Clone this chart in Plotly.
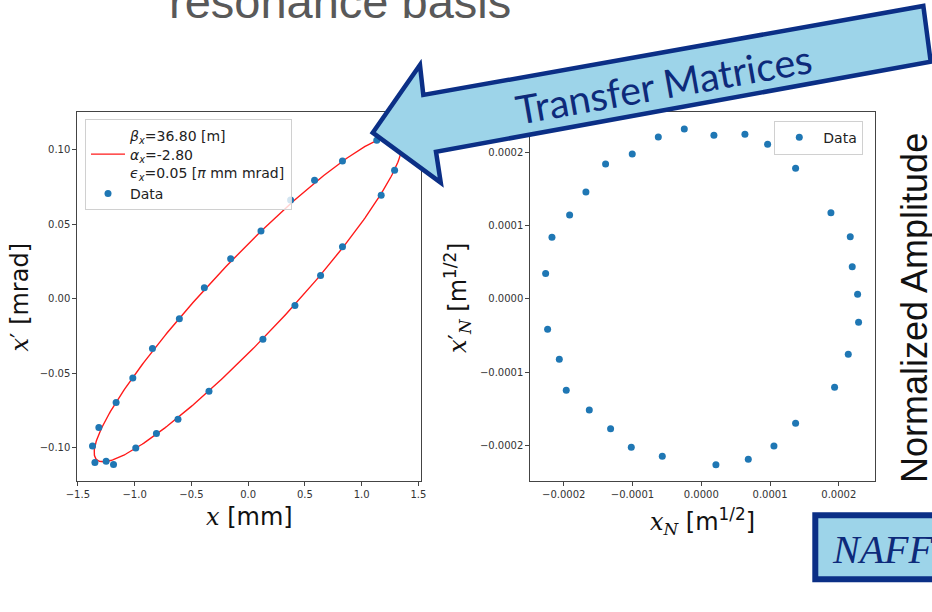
import numpy as np
import plotly.graph_objects as go

W, H = 932, 612


def px(x):
    return x / W


def py(y):
    return 1 - y / H


# ---- fit parameters (legend of left panel) ----
beta_x = 36.80   # [m]
alpha_x = -2.80
eps_x = 0.05     # [pi mm mrad]

# ---- left panel: physical phase space data ----
x_mm = [1.133, 0.831, 0.585, 0.374, 0.113, -0.154, -0.386, -0.606, -0.843, -1.016,
        -1.163, -1.315, -1.371, -1.350, -1.251, -1.186, -0.990, -0.808, -0.618, -0.345,
        0.130, 0.412, 0.638, 0.831, 1.172, 1.290]
xp_mrad = [0.1065, 0.0926, 0.0796, 0.0664, 0.0456, 0.0268, 0.0073, -0.0135, -0.0335, -0.0532,
           -0.0698, -0.0866, -0.0989, -0.1101, -0.1092, -0.1114, -0.1004, -0.0906, -0.0810, -0.0622,
           -0.0272, -0.0046, 0.0156, 0.0349, 0.0695, 0.0863]

# ---- right panel: normalized phase space data ----
xN = [-2.47e-5, 1.84e-5, 6.35e-5, 9.65e-5, 1.372e-4, 1.886e-4, 2.167e-4, 2.196e-4, 2.274e-4, 2.288e-4,
      2.138e-4, 1.939e-4, 1.372e-4, 1.057e-4, 6.84e-5, 2.13e-5, -5.67e-5, -1.018e-4, -1.319e-4, -1.629e-4,
      -1.964e-4, -2.065e-4, -2.235e-4, -2.264e-4, -2.172e-4, -1.915e-4, -1.678e-4, -1.392e-4, -1.004e-4, -6.25e-5]
xpN = [2.326e-4, 2.239e-4, 2.253e-4, 2.116e-4, 1.788e-4, 1.181e-4, 8.53e-5, 4.42e-5, 6.4e-6, -3.19e-5,
       -7.57e-5, -1.208e-4, -1.701e-4, -2.011e-4, -2.193e-4, -2.266e-4, -2.152e-4, -2.029e-4, -1.774e-4, -1.518e-4,
       -1.249e-4, -8.25e-5, -4.15e-5, 3.47e-5, 8.44e-5, 1.149e-4, 1.464e-4, 1.847e-4, 1.984e-4, 2.216e-4]

# ---- tick labels ----
left_xticks = [-1.5, -1.0, -0.5, 0.0, 0.5, 1.0, 1.5]
left_xtext = ["\u22121.5", "\u22121.0", "\u22120.5", "0.0", "0.5", "1.0", "1.5"]
left_yticks = [-0.10, -0.05, 0.0, 0.05, 0.10]
left_ytext = ["\u22120.10", "\u22120.05", "0.00", "0.05", "0.10"]
right_ticks = [-0.0002, -0.0001, 0.0, 0.0001, 0.0002]
right_text = ["\u22120.0002", "\u22120.0001", "0.0000", "0.0001", "0.0002"]

# fitted Twiss ellipse from the legend parameters
phi = np.linspace(0, 2 * np.pi, 400)
ell_x = np.sqrt(eps_x * beta_x) * np.cos(phi)
ell_xp = -np.sqrt(eps_x / beta_x) * (alpha_x * np.cos(phi) + np.sin(phi))

BLUE = "#1f77b4"
NAVY = "#0b2f86"
FILL = "#9dd4e9"

fig = go.Figure()

lbl = ("<i>\u03b2</i><sub><i>x</i></sub>=%.2f [m]<br>"
       "<i>\u03b1</i><sub><i>x</i></sub>=%.2f<br>"
       "<i>\u03f5</i><sub><i>x</i></sub>=%.2f [<i>\u03c0</i> mm mrad]") % (beta_x, alpha_x, eps_x)

fig.add_trace(go.Scatter(x=ell_x, y=ell_xp, mode="lines", line=dict(color="#ff1a1a", width=1.4),
                         name=lbl, xaxis="x", yaxis="y", legend="legend"))
fig.add_trace(go.Scatter(x=x_mm, y=xp_mrad, mode="markers", marker=dict(color=BLUE, size=7),
                         name="Data", xaxis="x", yaxis="y", legend="legend"))
fig.add_trace(go.Scatter(x=xN, y=xpN, mode="markers", marker=dict(color=BLUE, size=7),
                         name="Data", xaxis="x2", yaxis="y2", legend="legend2"))

axis_style = dict(showline=True, mirror=True, linecolor="#444", linewidth=1, ticks="outside",
                  ticklen=4, tickcolor="#444", tickwidth=1, showgrid=False, zeroline=False,
                  automargin=False,
                  tickfont=dict(family="DejaVu Sans", size=10, color="#333"))

ydom = [py(481), py(111.7)]
fig.update_layout(
    width=W, height=H, autosize=False,
    margin=dict(l=0, r=0, t=0, b=0, pad=0, autoexpand=False),
    paper_bgcolor="white", plot_bgcolor="white",
    xaxis=dict(domain=[px(77.3), px(420.7)], range=[-1.505, 1.52], tickvals=left_xticks,
               ticktext=left_xtext, anchor="y", **axis_style),
    yaxis=dict(domain=ydom, range=[-0.1225, 0.1257], tickvals=left_yticks, ticktext=left_ytext,
               anchor="x", **axis_style),
    xaxis2=dict(domain=[px(530.3), px(875)], range=[-0.0002487, 0.0002527], tickvals=right_ticks,
                ticktext=right_text, anchor="y2", **axis_style),
    yaxis2=dict(domain=ydom, range=[-0.000249, 0.0002562], tickvals=right_ticks, ticktext=right_text,
                anchor="x2", **axis_style),
    legend=dict(x=px(85), y=py(119.3), xanchor="left", yanchor="top",
                bgcolor="rgba(255,255,255,0.8)", bordercolor="#d0d0d0", borderwidth=1,
                font=dict(family="DejaVu Sans", size=14, color="#222"), valign="middle",
                tracegroupgap=0, itemwidth=34),
    legend2=dict(x=px(774.3), y=py(120.7), xanchor="left", yanchor="top",
                 bgcolor="rgba(255,255,255,0.8)", bordercolor="#d0d0d0", borderwidth=1,
                 font=dict(family="DejaVu Sans", size=14, color="#222"), itemwidth=38),
    showlegend=True,
)

SERIF = "font-family:'DejaVu Serif'"
annotations = [
    # axis labels
    dict(text="<span style=\"%s\"><i>x</i></span> [mm]" % SERIF, x=px(249), y=py(517),
         font=dict(family="DejaVu Sans", size=24, color="#111")),
    dict(text="<span style=\"%s\"><i>x</i>\u2032</span> [mrad]" % SERIF, x=px(19), y=py(297.5),
         textangle=-90, font=dict(family="DejaVu Sans", size=24, color="#111")),
    dict(text="<span style=\"%s\"><i>x</i><sub><i>N</i></sub></span> [m<sup>1/2</sup>]" % SERIF,
         x=px(702), y=py(521), font=dict(family="DejaVu Sans", size=24, color="#111")),
    dict(text="<span style=\"%s\"><i>x</i>\u2032<sub><i>N</i></sub></span> [m<sup>1/2</sup>]" % SERIF,
         x=px(457), y=py(298), textangle=-90, font=dict(family="DejaVu Sans", size=24, color="#111")),
    # slide decorations
    dict(text="resonance basis", x=px(167), y=py(30), xanchor="left", yanchor="bottom",
         font=dict(family="Liberation Sans", size=47, color="#595959")),
    dict(text="Transfer Matrices", x=px(663), y=py(84), textangle=-10,
         font=dict(family="Lato", size=39.5, color="#0d2a7a")),
    dict(text="Normalized Amplitude", x=px(914), y=py(308), textangle=-90,
         font=dict(family="Liberation Sans", size=36, color="#111")),
    dict(text="<i>NAFF(</i>", x=px(830), y=py(549), xanchor="left",
         font=dict(family="Liberation Serif", size=40, color="#0d2a7a")),
]
for a in annotations:
    a.setdefault("xref", "paper")
    a.setdefault("yref", "paper")
    a.setdefault("showarrow", False)
    a.setdefault("xanchor", "center")
    a.setdefault("yanchor", "middle")
    fig.add_annotation(**a)

# big arrow
pts = [(372.7, 132.7), (420, 65), (423.3, 95), (923.3, 6), (930.7, 61.7), (436, 151.7), (440.7, 182.7)]
path = "M " + " L ".join("%.4f,%.4f" % (px(a), py(b)) for a, b in pts) + " Z"
fig.add_shape(type="path", path=path, xref="paper", yref="paper", fillcolor=FILL,
              line=dict(color=NAVY, width=4.5), layer="above")
# NAFF box
fig.add_shape(type="rect", xref="paper", yref="paper", x0=px(815.3), x1=px(945), y0=py(579.3), y1=py(515.3),
              fillcolor=FILL, line=dict(color=NAVY, width=6), layer="below")

# remove the browser's default page margin so the figure fills the window exactly
fig.write_html("out.html", config={"displayModeBar": False},
               post_script="document.body.style.margin='0px';")
